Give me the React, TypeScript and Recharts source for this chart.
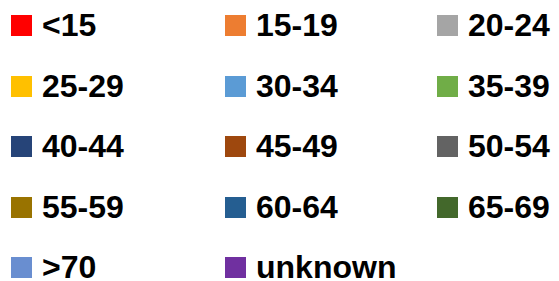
import * as React from "react";
import { Bar, BarChart, Legend, XAxis, YAxis } from "recharts";

/* ── legend data ─────────────────────────────────────────────────────────── */

const AGE_GROUPS = [
  "<15", "15-19", "20-24",
  "25-29", "30-34", "35-39",
  "40-44", "45-49", "50-54",
  "55-59", "60-64", "65-69",
  ">70", "unknown",
];

const COLORS = [
  "#FF0000", "#ED7D31", "#A5A5A5",
  "#FFC000", "#5B9BD5", "#70AD47",
  "#264478", "#9E480E", "#636363",
  "#997300", "#255E91", "#43682B",
  "#698ED0", "#7030A0",
];

const data = [{ group: "all" }];

const COL_X = [11, 225, 437];
const ROW_Y0 = 15;
const ROW_STEP = 60.5;
const SQ = 21;

if (typeof document !== "undefined") document.body.style.margin = "0";

function GridLegend(props: any) {
  // keep the original series order (recharts sorts legend items by name)
  const payload = [...(props.payload || [])].sort(
    (a: any, b: any) => AGE_GROUPS.indexOf(a.value) - AGE_GROUPS.indexOf(b.value)
  );
  return (
    <div style={{ position: "relative", width: 559, height: 281 }}>
      {payload.map((p: any, i: number) => {
        const col = i % 3;
        const row = Math.floor(i / 3);
        const top = ROW_Y0 + row * ROW_STEP;
        return (
          <div
            key={p.value}
            style={{
              position: "absolute",
              left: COL_X[col],
              top,
              height: SQ,
              display: "flex",
              alignItems: "center",
              whiteSpace: "nowrap",
            }}
          >
            <span
              style={{
                display: "inline-block",
                width: SQ,
                height: SQ,
                background: p.color,
                marginRight: 10,
              }}
            />
            <span
              style={{
                fontFamily: "'Liberation Sans', Arial, sans-serif",
                fontWeight: 700,
                fontSize: 32,
                color: "#000",
                lineHeight: "21px",
              }}
            >
              {p.value}
            </span>
          </div>
        );
      })}
    </div>
  );
}

export default function App() {
  return (
    <div style={{ width: 559, height: 281, background: "#fff" }}>
      <BarChart width={559} height={281} data={data} margin={{ top: 0, right: 0, left: 0, bottom: 0 }}>
        <XAxis dataKey="group" hide />
        <YAxis hide />
        <Legend
          content={<GridLegend />}
          verticalAlign="top"
          align="left"
          wrapperStyle={{ left: 0, top: 0, width: 559, height: 281 }}
        />
        {AGE_GROUPS.map((g, i) => (
          <Bar key={g} dataKey={g} name={g} fill={COLORS[i]} isAnimationActive={false} />
        ))}
      </BarChart>
    </div>
  );
}
